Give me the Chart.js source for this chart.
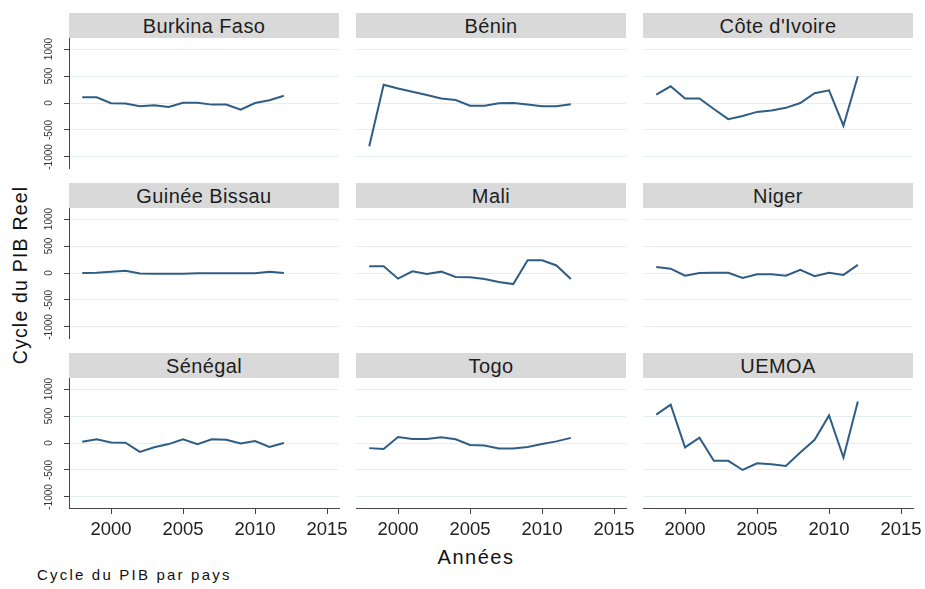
<!DOCTYPE html>
<html>
<head>
<meta charset="utf-8">
<script src="https://cdn.jsdelivr.net/npm/chart.js@4.4.0/dist/chart.umd.min.js"></script>
<style>
  body { margin: 0; background: #fff; font-family: "Liberation Sans", Arial, sans-serif; }
  #page { position: relative; width: 925px; height: 589px; overflow: hidden; background: #fff; }
  .panel { position: absolute; }
  .strip { position: absolute; width: 270px; height: 25px; line-height: 26px; background: #d9d9d9;
           color: #1e1e1e; font-size: 20px; letter-spacing: .4px; text-align: center; }
  #ytitle { position: absolute; left: -80px; top: 263px; width: 200px; height: 24px; line-height: 24px;
            text-align: center; font-size: 19.5px; letter-spacing: 1.2px; color: #111; transform: rotate(-90deg); }
  #xtitle { position: absolute; left: 376px; top: 545px; width: 200px; height: 24px; line-height: 24px;
            text-align: center; font-size: 20px; letter-spacing: 1.5px; color: #111; }
  #caption { position: absolute; left: 37px; top: 566px; height: 18px; line-height: 18px;
             font-size: 15px; letter-spacing: 2.2px; color: #111; white-space: nowrap; }
</style>
</head>
<body>
<div id="page">
  <div id="ytitle">Cycle du PIB Reel</div>
  <div id="xtitle">Années</div>
  <div id="caption">Cycle du PIB par pays</div>
</div>
<script>
// valeurs
const years = [1998, 1999, 2000, 2001, 2002, 2003, 2004, 2005, 2006, 2007, 2008, 2009, 2010, 2011, 2012];
const pays = ['Burkina Faso', 'Bénin', "Côte d'Ivoire", 'Guinée Bissau', 'Mali', 'Niger', 'Sénégal', 'Togo', 'UEMOA'];
const burkina = [105, 105, -5, -10, -60, -40, -75, 5, 5, -30, -30, -125, 0, 50, 135];
const benin = [-800, 340, 270, 210, 150, 85, 55, -50, -50, -5, 0, -30, -60, -60, -25];
const coteIvoire = [155, 310, 85, 85, -110, -300, -240, -165, -140, -90, 0, 180, 235, -420, 495];
const guineeBissau = [0, 5, 25, 40, -10, -15, -15, -15, -5, -5, -5, -5, -5, 25, 0];
const mali = [125, 125, -105, 30, -20, 25, -75, -80, -110, -165, -205, 235, 235, 140, -110];
const niger = [110, 80, -50, 0, 5, 5, -90, -25, -25, -50, 60, -60, 5, -35, 150];
const senegal = [25, 70, 10, 5, -165, -80, -20, 70, -20, 70, 60, -10, 35, -75, 0];
const togo = [-95, -110, 110, 75, 75, 105, 70, -35, -45, -100, -100, -75, -20, 30, 95];
const uemoa = [525, 710, -80, 100, -330, -330, -500, -375, -395, -425, -175, 60, 510, -270, 770];
const series = [burkina, benin, coteIvoire, guineeBissau, mali, niger, senegal, togo, uemoa];
const yTicks = [-1000, -500, 0, 500, 1000];
const xTicks = [2000, 2005, 2010, 2015];

Chart.defaults.font.family = '"Liberation Sans", Arial, sans-serif';

const colLeft = [69, 356, 643];
const stripTop = [13, 183, 353];
const page = document.getElementById('page');

function panelOptions(col, row) {
  const left = col === 0;
  const bottom = row === 2;
  return {
    responsive: false,
    animation: false,
    layout: { padding: { left: left ? 0 : 60, right: 25, top: 10, bottom: 2 } },
    plugins: { legend: { display: false }, tooltip: { enabled: false } },
    scales: {
      x: {
        type: 'linear',
        min: 1997.08,
        max: 2015.83,
        display: bottom,
        afterBuildTicks: s => { s.ticks = xTicks.map(v => ({ value: v })); },
        afterFit: s => { s.height = bottom ? 45 : 0; s.paddingLeft = 0; s.paddingRight = 0; },
        grid: { display: true, drawOnChartArea: false, drawTicks: true, tickLength: 6, tickColor: '#444', tickWidth: 1 },
        border: { display: true, color: '#444', width: 1 },
        ticks: { color: '#222', font: { size: 18.5 }, padding: 5, maxRotation: 0, autoSkip: false,
                 callback: v => String(v) }
      },
      y: {
        min: -1205,
        max: 1205,
        afterBuildTicks: s => { s.ticks = yTicks.map(v => ({ value: v })); },
        afterFit: s => { s.width = left ? 60 : 0; s.paddingTop = 0; s.paddingBottom = 0; },
        grid: { color: '#e4eff1', lineWidth: 1, drawTicks: left, tickLength: 5, tickColor: '#444' },
        border: { display: left, color: '#444', width: 1 },
        ticks: { display: left, autoSkip: false, minRotation: 90, maxRotation: 90, crossAlign: 'center', padding: 2,
                 color: '#333', font: { size: 10 }, callback: v => String(v) }
      }
    }
  };
}

for (let i = 0; i < pays.length; i++) {
  const col = i % 3;
  const row = Math.floor(i / 3);

  // bandeau gris du titre
  const strip = document.createElement('div');
  strip.className = 'strip';
  strip.style.left = colLeft[col] + 'px';
  strip.style.top = stripTop[row] + 'px';
  strip.textContent = pays[i];
  page.appendChild(strip);

  const w = 355;
  const h = 142 + (row === 2 ? 45 : 0);
  const box = document.createElement('div');
  box.className = 'panel';
  box.style.left = (colLeft[col] - 60) + 'px';
  box.style.top = (stripTop[row] + 25 - 10) + 'px';
  const canvas = document.createElement('canvas');
  canvas.width = w;
  canvas.height = h;
  canvas.style.width = w + 'px';
  canvas.style.height = h + 'px';
  box.appendChild(canvas);
  page.appendChild(box);

  new Chart(canvas, {
    type: 'line',
    data: {
      datasets: [{
        label: pays[i],
        data: years.map((yr, k) => ({ x: yr, y: series[i][k] })),
        borderColor: '#2f5d84',
        borderWidth: 2,
        pointRadius: 0,
        tension: 0,
        fill: false
      }]
    },
    options: panelOptions(col, row)
  });
}
</script>
</body>
</html>
